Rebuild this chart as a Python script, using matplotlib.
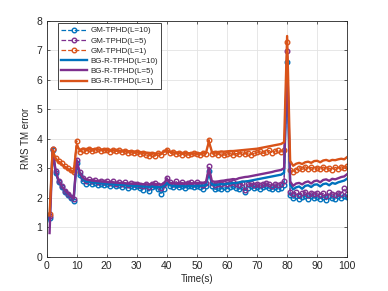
"""
RMS TM error vs time — GM-TPHD vs BG-R-TPHD for several L
"""

import numpy as np
import matplotlib.pyplot as plt

plt.rcParams['font.family'] = ['Liberation Sans', 'DejaVu Sans']

# ============================================================
# DATA
# ============================================================
time_s = list(range(1, 101))

gm_l10 = [
    1.30, 3.62, 2.85, 2.52, 2.35, 2.20, 2.10, 2.00, 1.90, 3.18,
    2.78, 2.55, 2.48, 2.52, 2.47, 2.50, 2.44, 2.48, 2.42, 2.46,
    2.41, 2.45, 2.38, 2.43, 2.37, 2.42, 2.33, 2.40, 2.36, 2.38,
    2.32, 2.27, 2.38, 2.22, 2.35, 2.39, 2.30, 2.14, 2.28, 2.52,
    2.40, 2.36, 2.42, 2.35, 2.40, 2.33, 2.38, 2.41, 2.35, 2.39,
    2.36, 2.30, 2.38, 2.92, 2.38, 2.28, 2.33, 2.30, 2.36, 2.31,
    2.35, 2.38, 2.33, 2.29, 2.37, 2.20, 2.34, 2.38, 2.32, 2.36,
    2.30, 2.35, 2.38, 2.33, 2.28, 2.35, 2.30, 2.34, 2.42, 6.60,
    2.08, 1.98, 2.04, 1.97, 2.01, 2.07, 1.95, 2.04, 1.99, 2.03,
    1.97, 2.02, 1.93, 2.05, 1.99, 1.97, 2.04, 2.00, 2.06, 2.01,
]

gm_l5 = [
    1.38, 3.64, 2.90, 2.55, 2.38, 2.22, 2.12, 2.02, 1.94, 3.26,
    2.86, 2.66, 2.58, 2.62, 2.55, 2.60, 2.53, 2.58, 2.52, 2.56,
    2.50, 2.56, 2.48, 2.54, 2.46, 2.52, 2.44, 2.50, 2.45, 2.48,
    2.42, 2.40, 2.47, 2.36, 2.45, 2.50, 2.42, 2.33, 2.46, 2.68,
    2.52, 2.48, 2.55, 2.47, 2.52, 2.45, 2.50, 2.54, 2.48, 2.52,
    2.48, 2.44, 2.50, 3.07, 2.50, 2.42, 2.47, 2.45, 2.50, 2.46,
    2.49, 2.52, 2.47, 2.43, 2.50, 2.26, 2.46, 2.50, 2.44, 2.48,
    2.42, 2.47, 2.50, 2.45, 2.40, 2.47, 2.43, 2.46, 2.58, 6.97,
    2.20, 2.12, 2.18, 2.10, 2.15, 2.20, 2.08, 2.17, 2.12, 2.16,
    2.10, 2.15, 2.06, 2.18, 2.12, 2.10, 2.17, 2.13, 2.32, 2.14,
]

gm_l1 = [
    1.46, 3.66, 3.36, 3.25, 3.16, 3.07, 3.00, 2.95, 2.87, 3.93,
    3.55, 3.63, 3.58, 3.64, 3.57, 3.62, 3.66, 3.58, 3.63, 3.60,
    3.56, 3.62, 3.57, 3.60, 3.54, 3.58, 3.52, 3.56, 3.50, 3.54,
    3.48, 3.52, 3.45, 3.42, 3.47, 3.40, 3.50, 3.45, 3.55, 3.60,
    3.50, 3.54, 3.48, 3.52, 3.46, 3.50, 3.44, 3.48, 3.52, 3.47,
    3.45, 3.50, 3.47, 3.97, 3.48, 3.52, 3.46, 3.50, 3.44, 3.48,
    3.52, 3.45, 3.50, 3.47, 3.55, 3.48, 3.52, 3.46, 3.50, 3.54,
    3.58, 3.50, 3.56, 3.60, 3.52, 3.58, 3.62, 3.55, 3.60, 7.27,
    2.95, 2.88, 2.95, 3.02, 2.96, 3.05, 2.98, 3.03, 2.97, 3.02,
    2.96, 3.04, 2.98, 3.00, 2.95, 3.03, 2.98, 3.05, 3.00, 3.08,
]

bg_l10 = [
    1.20, 3.60, 2.88, 2.55, 2.37, 2.22, 2.11, 2.02, 1.93, 3.20,
    2.80, 2.62, 2.55, 2.54, 2.52, 2.51, 2.50, 2.49, 2.48, 2.47,
    2.46, 2.45, 2.44, 2.44, 2.43, 2.42, 2.41, 2.41, 2.40, 2.40,
    2.39, 2.38, 2.38, 2.37, 2.38, 2.37, 2.36, 2.35, 2.40, 2.50,
    2.42, 2.40, 2.40, 2.39, 2.40, 2.38, 2.39, 2.40, 2.39, 2.40,
    2.40, 2.41, 2.42, 2.85, 2.45, 2.43, 2.44, 2.46, 2.45, 2.47,
    2.48, 2.50, 2.49, 2.52, 2.54, 2.55, 2.56, 2.58, 2.60, 2.62,
    2.64, 2.66, 2.68, 2.70, 2.72, 2.74, 2.76, 2.78, 2.85, 6.40,
    2.45, 2.28, 2.35, 2.38, 2.30, 2.40, 2.42, 2.36, 2.44, 2.45,
    2.38, 2.46, 2.48, 2.42, 2.50, 2.47, 2.52, 2.55, 2.58, 2.65,
]

bg_l5 = [
    0.80, 3.62, 2.92, 2.58, 2.40, 2.25, 2.14, 2.05, 1.96, 3.28,
    2.86, 2.68, 2.62, 2.60, 2.58, 2.57, 2.56, 2.55, 2.54, 2.53,
    2.52, 2.52, 2.51, 2.50, 2.50, 2.49, 2.48, 2.48, 2.47, 2.47,
    2.46, 2.46, 2.45, 2.45, 2.46, 2.45, 2.44, 2.44, 2.48, 2.62,
    2.50, 2.48, 2.48, 2.47, 2.48, 2.47, 2.48, 2.49, 2.48, 2.50,
    2.50, 2.51, 2.52, 3.00, 2.55, 2.54, 2.55, 2.57, 2.58, 2.60,
    2.61, 2.63, 2.62, 2.66, 2.68, 2.70, 2.71, 2.73, 2.75, 2.77,
    2.79, 2.81, 2.83, 2.85, 2.87, 2.90, 2.92, 2.94, 3.00, 6.80,
    2.55, 2.40, 2.48, 2.50, 2.45, 2.52, 2.55, 2.48, 2.56, 2.58,
    2.52, 2.60, 2.62, 2.57, 2.64, 2.62, 2.66, 2.70, 2.72, 2.80,
]

bg_l1 = [
    1.40, 3.62, 3.32, 3.22, 3.13, 3.05, 2.98, 2.92, 2.85, 3.78,
    3.62, 3.66, 3.65, 3.66, 3.64, 3.65, 3.64, 3.63, 3.63, 3.62,
    3.62, 3.61, 3.60, 3.60, 3.59, 3.58, 3.58, 3.57, 3.56, 3.56,
    3.55, 3.54, 3.53, 3.52, 3.51, 3.50, 3.50, 3.50, 3.55, 3.62,
    3.55, 3.54, 3.53, 3.52, 3.52, 3.51, 3.51, 3.50, 3.50, 3.50,
    3.50, 3.51, 3.52, 3.90, 3.55, 3.54, 3.55, 3.56, 3.56, 3.57,
    3.58, 3.58, 3.59, 3.60, 3.61, 3.62, 3.63, 3.64, 3.65, 3.66,
    3.68, 3.70, 3.72, 3.74, 3.76, 3.78, 3.80, 3.82, 3.88, 7.48,
    3.25, 3.08, 3.15, 3.18, 3.14, 3.20, 3.22, 3.18, 3.24, 3.25,
    3.20, 3.26, 3.28, 3.24, 3.28, 3.27, 3.30, 3.32, 3.30, 3.38,
]

C_BLUE = '#0072BD'
C_PURPLE = '#7E2F8E'
C_ORANGE = '#D95319'
C_AXIS = '#262626'

# ============================================================
# PLOT
# ============================================================
fig = plt.figure(figsize=(3.88, 2.91), dpi=100)
ax = fig.add_axes([0.120, 0.118, 0.775, 0.811])

gm_series = [(gm_l10, C_BLUE, 'GM-TPHD(L=10)'),
             (gm_l5, C_PURPLE, 'GM-TPHD(L=5)'),
             (gm_l1, C_ORANGE, 'GM-TPHD(L=1)')]
bg_series = [(bg_l10, C_BLUE, 'BG-R-TPHD(L=10)'),
             (bg_l5, C_PURPLE, 'BG-R-TPHD(L=5)'),
             (bg_l1, C_ORANGE, 'BG-R-TPHD(L=1)')]

for vals, col, lbl in gm_series:
    ax.plot(time_s, vals, '--o', color=col, linewidth=0.9, markersize=3.3,
            markerfacecolor='none', markeredgewidth=1.0, label=lbl, zorder=2)

for vals, col, lbl in bg_series:
    ax.plot(time_s, vals, '-', color=col, linewidth=1.7, label=lbl, zorder=3)

ax.set_xlim(0, 100)
ax.set_ylim(0, 8)
ax.set_xticks(np.arange(0, 101, 10))
ax.set_yticks(np.arange(0, 9, 1))
ax.grid(True, color='#e3e3e3', linewidth=0.6)
ax.set_axisbelow(True)
ax.tick_params(direction='in', length=2.5, width=0.5, colors=C_AXIS,
               labelsize=7.5, top=True, right=True, pad=3)
for sp in ax.spines.values():
    sp.set_color(C_AXIS)
    sp.set_linewidth(0.6)

ax.set_xlabel('Time(s)', fontsize=7, color=C_AXIS, labelpad=2)
ax.set_ylabel('RMS TM error', fontsize=7, color=C_AXIS, labelpad=4)

leg = ax.legend(loc='upper left', bbox_to_anchor=(0.038, 0.988),
                fontsize=5.8, handlelength=3.2, handletextpad=0.45,
                labelspacing=0.32, borderpad=0.4, borderaxespad=0,
                frameon=True, fancybox=False, framealpha=1)
leg.get_frame().set_edgecolor(C_AXIS)
leg.get_frame().set_linewidth(0.6)
for t in leg.get_texts():
    t.set_color(C_AXIS)

fig.savefig('out.png', dpi=100, facecolor='white')
